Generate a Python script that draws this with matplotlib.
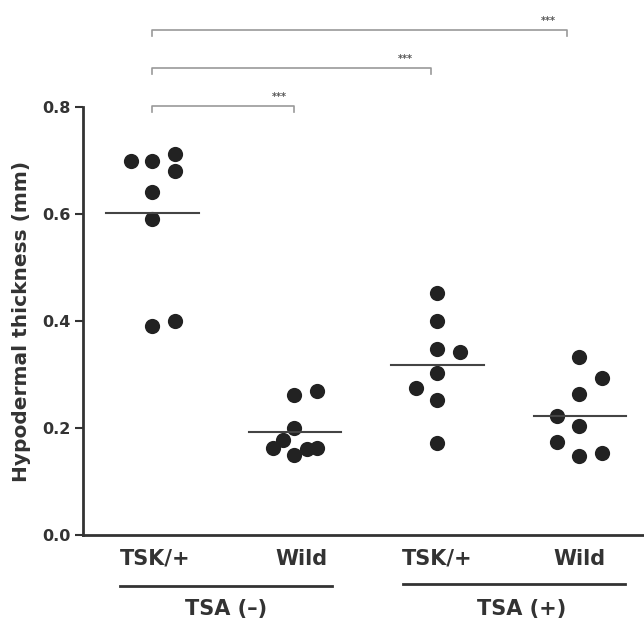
import matplotlib
matplotlib.use("Agg")
import matplotlib.pyplot as plt
from matplotlib.transforms import blended_transform_factory

# ---- data ----
groups = ["TSK/+", "Wild", "TSK/+", "Wild"]
treatments = ["TSA (\u2013)", "TSA (+)"]
tsk_minus = [0.70, 0.70, 0.712, 0.68, 0.641, 0.59, 0.39, 0.40]
wild_minus = [0.262, 0.27, 0.20, 0.178, 0.163, 0.150, 0.160, 0.163]
tsk_plus = [0.452, 0.40, 0.347, 0.342, 0.303, 0.275, 0.252, 0.172]
wild_plus = [0.333, 0.293, 0.264, 0.222, 0.204, 0.174, 0.148, 0.153]
series = [tsk_minus, wild_minus, tsk_plus, wild_plus]
means = [0.601, 0.193, 0.318, 0.222]
# horizontal jitter of points within a group (category units)
jitter = [
    [-0.15, 0.0, 0.16, 0.16, 0.0, 0.0, 0.0, 0.16],
    [0.0, 0.16, 0.0, -0.08, -0.15, 0.0, 0.09, 0.16],
    [0.0, 0.0, 0.0, 0.16, 0.0, -0.15, 0.0, 0.0],
    [0.0, 0.16, 0.0, -0.16, 0.0, -0.16, 0.0, 0.16],
]
yticks = [0.0, 0.2, 0.4, 0.6, 0.8]
comparisons = [(0, 1), (0, 2), (0, 3)]
sig_labels = ["***", "***", "***"]
bracket_y = [0.802, 0.873, 0.944]

plt.rcParams["font.family"] = ["DejaVu Sans"]

fig = plt.figure(figsize=(6.44, 6.22), dpi=100)
ax = fig.add_axes([83 / 644, 1 - 535 / 622, 1 - 83 / 644, (535 - 107) / 622])

pos = list(range(len(groups)))
dot_color = "#222222"
for i, vals in enumerate(series):
    xs = [pos[i] + j for j in jitter[i]]
    ax.scatter(xs, vals, s=120, color=dot_color, zorder=3, clip_on=False,
               linewidths=0)
    ax.plot([pos[i] - 0.32, pos[i] + 0.33], [means[i], means[i]],
            color="#444444", lw=1.5, zorder=4)

ax.set_xlim(-0.484, 3.453)
ax.set_ylim(0, 0.8)
ax.set_yticks(yticks)
ax.set_yticklabels([f"{t:.1f}" for t in yticks], fontsize=11.5,
                   fontweight="bold", color="#333333")
ax.tick_params(axis="y", length=6, width=1.5, color="#333333", pad=3)
ax.set_xticks([])
for s in ["top", "right"]:
    ax.spines[s].set_visible(False)
ax.spines["left"].set_linewidth(2)
ax.spines["bottom"].set_linewidth(2)
ax.spines["left"].set_color("#333333")
ax.spines["bottom"].set_color("#333333")

ax.set_ylabel("Hypodermal thickness (mm)", fontsize=14.5, fontweight="bold",
              color="#333333", labelpad=8)

# group labels
trans = blended_transform_factory(ax.transData, fig.transFigure)
label_shift = [0.02, 0.05, 0.0, 0.0]
for i, g in enumerate(groups):
    ax.text(pos[i] + label_shift[i], 1 - 559 / 622, g, transform=trans,
            ha="center", va="center", fontsize=15, fontweight="bold",
            color="#333333")

# treatment lines and labels
tr_ranges = [(-0.225, 1.26), (1.765, 3.32)]
tr_line_y = [586, 584]
for k, t in enumerate(treatments):
    a, b = tr_ranges[k]
    ax.plot([a, b], [1 - tr_line_y[k] / 622] * 2, transform=trans,
            color="#333333", lw=2, clip_on=False)
    ax.text((a + b) / 2 + (0.0 if k == 0 else 0.05), 1 - 609 / 622, t,
            transform=trans, ha="center", va="center", fontsize=15,
            fontweight="bold", color="#333333")

# significance brackets
end_adjust = [0.0, -0.04, -0.09]
star_shift = [-0.105, -0.18, -0.13]
for k, (a, b) in enumerate(comparisons):
    y = bracket_y[k]
    xb = pos[b] + end_adjust[k]
    xa = pos[a]
    ax.plot([xa, xa, xb, xb], [y - 0.012, y, y, y - 0.012], color="#999999",
            lw=1.2, clip_on=False)
    ax.text(xb + star_shift[k], y + 0.008, sig_labels[k], ha="center",
            va="bottom", fontsize=7, fontweight="bold", color="#555555")

fig.savefig("out.png", dpi=100)
